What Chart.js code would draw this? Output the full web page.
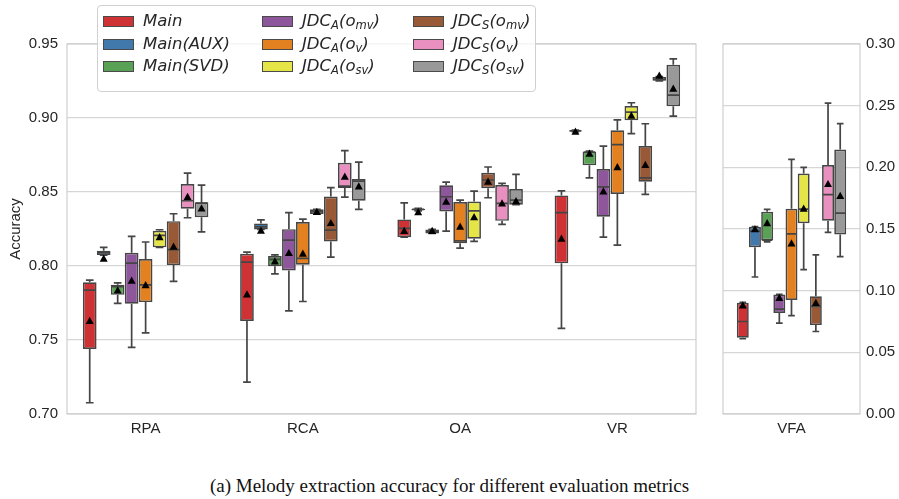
<!DOCTYPE html>
<html>
<head>
<meta charset="utf-8">
<script src="https://cdn.jsdelivr.net/npm/chart.js@4"></script>
<style>
  body { margin: 0; background: #fff; width: 899px; height: 499px; overflow: hidden; position: relative; }
  #left { position: absolute; left: 0; top: 0; }
  #right { position: absolute; left: 700px; top: 0; }
  #legend {
    position: absolute; left: 97px; top: 5px; width: 437px; height: 85px;
    background: rgba(255,255,255,0.8); border: 1px solid #d0d0d0; border-radius: 4px;
    font-family: "DejaVu Sans", sans-serif; font-style: italic; font-size: 16.5px; color: #262626;
  }
  .item { position: absolute; height: 22px; line-height: 22px; white-space: nowrap; }
  .item span.patch { position: absolute; left: 0; top: 6px; width: 29px; height: 9px; border: 1px solid #4a4a4a; }
  .item span.txt { position: absolute; left: 40px; top: 0; }
  sub { font-size: 11.5px; vertical-align: -3px; line-height: 0; }
  #caption {
    position: absolute; left: 0; width: 899px; top: 475px; text-align: center;
    font-family: "Liberation Serif", serif; font-size: 19px; color: #111;
  }
</style>
</head>
<body>
<canvas id="left" width="700" height="445"></canvas>
<canvas id="right" width="199" height="445"></canvas>
<div id="legend"></div>
<div id="caption">(a) Melody extraction accuracy for different evaluation metrics</div>
<script>
// categories (last one is drawn on its own panel)
var categories = ['RPA', 'RCA', 'OA', 'VR', 'VFA'];
var seriesLabels = [
  'Main', 'Main(AUX)', 'Main(SVD)',
  'JDC<sub>A</sub>(o<sub>mv</sub>)', 'JDC<sub>A</sub>(o<sub>v</sub>)', 'JDC<sub>A</sub>(o<sub>sv</sub>)',
  'JDC<sub>S</sub>(o<sub>mv</sub>)', 'JDC<sub>S</sub>(o<sub>v</sub>)', 'JDC<sub>S</sub>(o<sub>sv</sub>)'
];
var colors = ['#cf3234', '#4279ac', '#58a155', '#8f579b', '#e3801f', '#e6e547', '#985a36', '#ea90c1', '#999999'];

// per category: [whiskerLow, q1, median, q3, whiskerHigh, mean]
var main = [
  [0.7076, 0.7440, 0.7837, 0.7890, 0.7905, 0.7628],
  [0.7215, 0.7628, 0.8026, 0.8082, 0.8094, 0.7808],
  [0.8195, 0.8195, 0.8254, 0.8315, 0.8427, 0.8236],
  [0.7578, 0.8018, 0.8360, 0.8477, 0.8508, 0.8184],
  [0.0610, 0.0618, 0.0750, 0.0902, 0.0905, 0.0880]
];
var mainAux = [
  [0.8074, 0.8074, 0.8090, 0.8103, 0.8126, 0.8049],
  [0.8247, 0.8247, 0.8265, 0.8288, 0.8312, 0.8238],
  [0.8372, 0.8376, 0.8382, 0.8386, 0.8390, 0.8364],
  [0.8908, 0.8910, 0.8913, 0.8916, 0.8918, 0.8907],
  [0.1111, 0.1352, 0.1482, 0.1518, 0.1520, 0.1497]
];
var mainSvd = [
  [0.7747, 0.7805, 0.7860, 0.7873, 0.7886, 0.7835],
  [0.7947, 0.7999, 0.8045, 0.8067, 0.8075, 0.8031],
  [0.8220, 0.8220, 0.8235, 0.8247, 0.8247, 0.8236],
  [0.8596, 0.8680, 0.8770, 0.8772, 0.8776, 0.8758],
  [0.1395, 0.1407, 0.1410, 0.1640, 0.1659, 0.1547]
];
var jdcAmv = [
  [0.7450, 0.7745, 0.8020, 0.8089, 0.8200, 0.7900],
  [0.7697, 0.7970, 0.8175, 0.8249, 0.8360, 0.8087],
  [0.8236, 0.8369, 0.8468, 0.8545, 0.8567, 0.8434],
  [0.8195, 0.8333, 0.8535, 0.8655, 0.8810, 0.8504],
  [0.0737, 0.0819, 0.0851, 0.0968, 0.0970, 0.0941]
];
var jdcAv = [
  [0.7548, 0.7756, 0.7873, 0.8047, 0.8162, 0.7870],
  [0.7760, 0.8008, 0.8051, 0.8297, 0.8317, 0.8083],
  [0.8121, 0.8153, 0.8170, 0.8432, 0.8445, 0.8265],
  [0.8141, 0.8486, 0.8820, 0.8917, 0.8988, 0.8667],
  [0.0797, 0.0924, 0.1461, 0.1664, 0.2065, 0.1382]
];
var jdcAsv = [
  [0.8126, 0.8126, 0.8207, 0.8238, 0.8245, 0.8195],
  [0.8351, 0.8351, 0.8367, 0.8383, 0.8383, 0.8365],
  [0.8166, 0.8184, 0.8373, 0.8436, 0.8506, 0.8330],
  [0.8894, 0.8984, 0.9040, 0.9081, 0.9103, 0.9015],
  [0.1171, 0.1547, 0.1661, 0.1949, 0.2000, 0.1664]
];
var jdcSmv = [
  [0.7896, 0.8006, 0.8110, 0.8303, 0.8353, 0.8130],
  [0.8060, 0.8166, 0.8243, 0.8470, 0.8529, 0.8290],
  [0.8461, 0.8525, 0.8581, 0.8630, 0.8669, 0.8569],
  [0.8484, 0.8569, 0.8596, 0.8810, 0.8961, 0.8682],
  [0.0669, 0.0721, 0.0873, 0.0954, 0.1290, 0.0900]
];
var jdcSv = [
  [0.8326, 0.8387, 0.8441, 0.8554, 0.8628, 0.8466],
  [0.8466, 0.8527, 0.8540, 0.8698, 0.8779, 0.8603],
  [0.8281, 0.8305, 0.8423, 0.8547, 0.8558, 0.8423],
  [0.9250, 0.9252, 0.9260, 0.9277, 0.9280, 0.9286],
  [0.1472, 0.1567, 0.1778, 0.2019, 0.2520, 0.1864]
];
var jdcSsv = [
  [0.8231, 0.8330, 0.8425, 0.8430, 0.8547, 0.8389],
  [0.8383, 0.8441, 0.8574, 0.8587, 0.8702, 0.8537],
  [0.8414, 0.8414, 0.8445, 0.8520, 0.8619, 0.8437],
  [0.9013, 0.9079, 0.9155, 0.9360, 0.9399, 0.9198],
  [0.1276, 0.1455, 0.1628, 0.2144, 0.2355, 0.1767]
];
var allSeries = [main, mainAux, mainSvd, jdcAmv, jdcAv, jdcAsv, jdcSmv, jdcSv, jdcSsv];

var edge = '#454545';
var tickFont = { family: 'Liberation Sans', size: 15 };

// whiskers, caps, medians and mean markers on top of the floating bars
var boxPlugin = {
  id: 'boxes',
  afterDatasetsDraw: function(chart) {
    var ctx = chart.ctx;
    var y = chart.scales.y;
    ctx.save();
    chart.data.datasets.forEach(function(ds, i) {
      var meta = chart.getDatasetMeta(i);
      meta.data.forEach(function(bar, j) {
        var s = ds.stats[j];
        var x = bar.x, half = bar.width / 2, cap = bar.width * 0.28;
        ctx.strokeStyle = edge;
        ctx.lineWidth = 1.7;
        ctx.beginPath();
        ctx.moveTo(x, y.getPixelForValue(s[3])); ctx.lineTo(x, y.getPixelForValue(s[4]));
        ctx.moveTo(x, y.getPixelForValue(s[1])); ctx.lineTo(x, y.getPixelForValue(s[0]));
        ctx.moveTo(x - cap, y.getPixelForValue(s[4])); ctx.lineTo(x + cap, y.getPixelForValue(s[4]));
        ctx.moveTo(x - cap, y.getPixelForValue(s[0])); ctx.lineTo(x + cap, y.getPixelForValue(s[0]));
        ctx.moveTo(x - half + 1, y.getPixelForValue(s[2])); ctx.lineTo(x + half - 1, y.getPixelForValue(s[2]));
        ctx.stroke();
        var my = y.getPixelForValue(s[5]);
        ctx.fillStyle = '#000';
        ctx.beginPath();
        ctx.moveTo(x, my - 4.2); ctx.lineTo(x + 4, my + 3); ctx.lineTo(x - 4, my + 3);
        ctx.closePath();
        ctx.fill();
      });
    });
    var a = chart.chartArea;
    ctx.strokeStyle = '#cfcfcf';
    ctx.lineWidth = 1.2;
    ctx.strokeRect(a.left, a.top, a.right - a.left, a.bottom - a.top);
    ctx.restore();
  }
};

function makeDatasets(from, to) {
  return allSeries.map(function(series, i) {
    var stats = series.slice(from, to);
    return {
      label: seriesLabels[i],
      data: stats.map(function(s) { return [s[1], s[3]]; }),
      stats: stats,
      backgroundColor: colors[i],
      borderColor: edge,
      borderWidth: 1.7,
      borderSkipped: false,
      barPercentage: 0.98,
      categoryPercentage: 0.8
    };
  });
}

var common = {
  responsive: false,
  animation: false,
  plugins: { legend: { display: false }, tooltip: { enabled: false } }
};

function xAxis() {
  return {
    grid: { display: false, drawTicks: false, tickLength: 0 },
    border: { display: false },
    ticks: { color: '#262626', font: tickFont, padding: 6 },
    afterFit: function(s) { s.height = 30; }
  };
}

var leftChart = new Chart(document.getElementById('left').getContext('2d'), {
  type: 'bar',
  data: { labels: categories.slice(0, 4), datasets: makeDatasets(0, 4) },
  options: Object.assign({}, common, {
    layout: { padding: { left: 7, top: 44, right: 4, bottom: 1 } },
    scales: {
      x: xAxis(),
      y: {
        min: 0.70, max: 0.95,
        grid: { color: '#d6d6d6', lineWidth: 1.2, drawTicks: false },
        border: { display: false },
        ticks: { stepSize: 0.05, color: '#262626', font: tickFont, padding: 9,
          callback: function(v) { return v.toFixed(2); } },
        title: { display: true, text: 'Accuracy', color: '#262626', font: tickFont, padding: 0 },
        afterFit: function(s) { s.width = 60; }
      }
    }
  }),
  plugins: [boxPlugin]
});

var rightChart = new Chart(document.getElementById('right').getContext('2d'), {
  type: 'bar',
  data: { labels: categories.slice(4), datasets: makeDatasets(4, 5) },
  options: Object.assign({}, common, {
    layout: { padding: { left: 23, top: 44, right: 0, bottom: 1 } },
    scales: {
      x: xAxis(),
      y: {
        position: 'right',
        min: 0, max: 0.30,
        grid: { color: '#d6d6d6', lineWidth: 1.2, drawTicks: false },
        border: { display: false },
        ticks: { stepSize: 0.05, color: '#262626', font: tickFont, padding: 6,
          callback: function(v) { return v.toFixed(2); } },
        afterFit: function(s) { s.width = 39; }
      }
    }
  }),
  plugins: [boxPlugin]
});

// legend: three columns, filled column by column
var legend = document.getElementById('legend');
var colX = [5, 164, 315];
var rowY = [4, 27, 49];
seriesLabels.forEach(function(lab, i) {
  var d = document.createElement('div');
  d.className = 'item';
  d.style.left = colX[Math.floor(i / 3)] + 'px';
  d.style.top = rowY[i % 3] + 'px';
  d.innerHTML = '<span class="patch" style="background:' + colors[i] + '"></span><span class="txt">' + lab + '</span>';
  legend.appendChild(d);
});
</script>
</body>
</html>
